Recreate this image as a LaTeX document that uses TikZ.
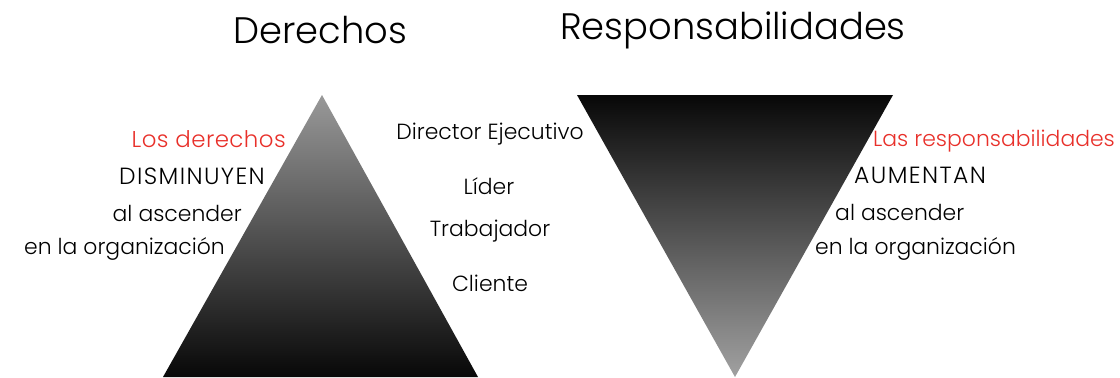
\documentclass[tikz,border=0pt]{standalone}
\usepackage{fontspec}
\setmainfont{Poppins}[UprightFont={* Light}]
\definecolor{redtxt}{HTML}{E8302A}
\begin{document}
\begin{tikzpicture}[x=1bp,y=-1bp,
  lbl/.style={inner sep=0pt,font=\fontsize{22}{26}\selectfont},
  capslbl/.style={inner sep=0pt,font=\fontsize{23.5}{26}\selectfont\addfontfeature{LetterSpace=6}},
  redlbl/.style={inner sep=0pt,text=redtxt,font=\fontsize{23}{26}\selectfont\addfontfeature{LetterSpace=2}},
  ttl/.style={inner sep=0pt,font=\fontsize{37}{44}\selectfont}]
\useasboundingbox (0,0) rectangle (1120,377);
% left pyramid
\shade[top color=black!40,middle color=black!76,bottom color=black!97] (322,95) -- (478,377) -- (163,377) -- cycle;
% right inverted pyramid
\shade[top color=black!97,middle color=black!78,bottom color=black!37] (577,95) -- (893,95) -- (735,377) -- cycle;
% titles
\node[ttl] (t1) at (320,30) {Derechos};
\node[ttl] (t2) at (733,30) {Responsabilidades};
% left labels
\node[redlbl,anchor=east] (l1) at (286,139) {Los derechos};
\node[capslbl,anchor=east] (l2) at (265,176) {DISMINUYEN};
\node[lbl,anchor=east] (l3) at (242,213) {al ascender};
\node[lbl,anchor=east] (l4) at (225,249) {en la organización};
% middle
\node[lbl] (m1) at (490,134) {Director Ejecutivo};
\node[lbl] (m2) at (489,186) {Líder};
\node[lbl] (m3) at (490,231) {Trabajador};
\node[lbl] (m4) at (490,283) {Cliente};
% right labels
\node[lbl,text=redtxt,anchor=west] (r1) at (873,141) {Las responsabilidades};
\node[capslbl,anchor=west] (r2) at (854,175) {AUMENTAN};
\node[lbl,anchor=west] (r3) at (835,212) {al ascender};
\node[lbl,anchor=west] (r4) at (815,249) {en la organización};
\end{tikzpicture}
\end{document}
